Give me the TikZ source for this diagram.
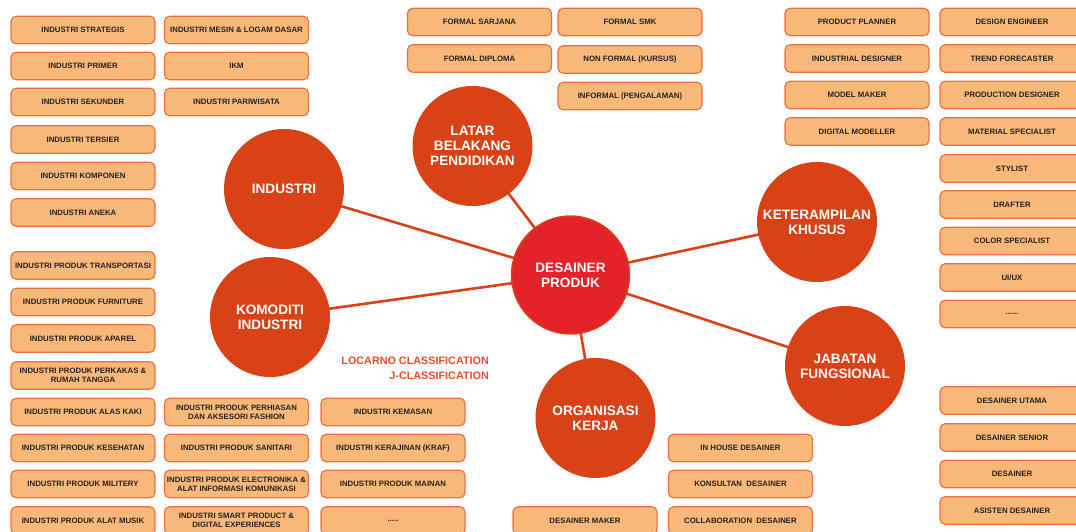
\documentclass[tikz,border=0pt]{standalone}
\usepackage{fontspec}
\setmainfont{Liberation Sans}
\usetikzlibrary{backgrounds}
\definecolor{boxfill}{RGB}{247,184,122}
\definecolor{boxline}{RGB}{234,110,62}
\definecolor{boxtext}{RGB}{40,34,30}
\definecolor{hubfill}{RGB}{216,66,22}
\definecolor{corefill}{RGB}{228,34,42}
\definecolor{notecol}{RGB}{226,78,40}
\tikzset{
  box/.style={draw=boxline, fill=boxfill, line width=1.1pt, rounded corners=5pt,
    minimum width=144pt, minimum height=27.5pt, inner sep=0pt, align=center,
    text=boxtext, font=\fontsize{7.8}{8.9}\selectfont\bfseries},
  hub/.style={circle, fill=hubfill, minimum size=120pt, inner sep=0pt, align=center,
    text=white, font=\fontsize{13.6}{15}\selectfont\bfseries},
  core/.style={hub, fill=corefill, draw=hubfill, line width=1.4pt, minimum size=118pt},
  link/.style={draw=hubfill, line width=2.6pt},
  note/.style={text=notecol, align=right, anchor=east, inner sep=0pt,
    font=\fontsize{10.8}{15}\selectfont\bfseries}
}
\begin{document}
\begin{tikzpicture}[x=1pt,y=-1pt]
\useasboundingbox (0,0) rectangle (1076,532);

% hubs
\node[core] (dp) at (570.5,275) {DESAINER\\PRODUK};
\node[hub] (ind) at (284,189) {INDUSTRI};
\node[hub] (lat) at (472.5,146) {LATAR\\BELAKANG\\PENDIDIKAN};
\node[hub] (kom) at (270,317) {KOMODITI\\INDUSTRI};
\node[hub] (ket) at (817,222) {KETERAMPILAN\\KHUSUS};
\node[hub] (jab) at (845,366) {JABATAN\\FUNGSIONAL};
\node[hub] (org) at (595.5,418) {ORGANISASI\\KERJA};

% spokes, behind the hubs
\begin{scope}[on background layer]
\foreach \h in {ind,lat,kom,ket,jab,org}{
  \draw[link] (dp.center) -- (\h.center);
}
\end{scope}

% industri
\node[box] (i1) at (83,30) {INDUSTRI STRATEGIS};
\node[box] (i2) at (83,66) {INDUSTRI PRIMER};
\node[box] (i3) at (83,102) {INDUSTRI SEKUNDER};
\node[box] (i4) at (83,139.5) {INDUSTRI TERSIER};
\node[box] (i5) at (83,176) {INDUSTRI KOMPONEN};
\node[box] (i6) at (83,212.5) {INDUSTRI ANEKA};
\node[box] (i7) at (236.5,30) {INDUSTRI MESIN \& LOGAM DASAR};
\node[box] (i8) at (236.5,66) {IKM};
\node[box] (i9) at (236.5,102) {INDUSTRI PARIWISATA};

% komoditi industri
\node[box] (k1) at (83,265.5) {INDUSTRI PRODUK TRANSPORTASI};
\node[box] (k2) at (83,302) {INDUSTRI PRODUK FURNITURE};
\node[box] (k3) at (83,338.5) {INDUSTRI PRODUK APAREL};
\node[box] (k4) at (83,375.5) {INDUSTRI PRODUK PERKAKAS \&\\RUMAH TANGGA};
\node[box] (k5) at (83,412) {INDUSTRI PRODUK ALAS KAKI};
\node[box] (k6) at (83,448) {INDUSTRI PRODUK KESEHATAN};
\node[box] (k7) at (83,484) {INDUSTRI PRODUK MILITERY};
\node[box] (k8) at (83,520.5) {INDUSTRI PRODUK ALAT MUSIK};
\node[box] (k9) at (236.5,412) {INDUSTRI PRODUK PERHIASAN\\DAN AKSESORI FASHION};
\node[box] (k10) at (236.5,448) {INDUSTRI PRODUK SANITARI};
\node[box] (k11) at (236.5,484) {INDUSTRI PRODUK ELECTRONIKA \&\\ALAT INFORMASI KOMUNIKASI};
\node[box] (k12) at (236.5,520.5) {INDUSTRI SMART PRODUCT \&\\DIGITAL EXPERIENCES};
\node[box] (k13) at (393,412) {INDUSTRI KEMASAN};
\node[box] (k14) at (393,448) {INDUSTRI KERAJINAN (KRAF)};
\node[box] (k15) at (393,484) {INDUSTRI PRODUK MAINAN};
\node[box] (k16) at (393,520.5) {.....};

\node[note] (loc) at (489,361) {LOCARNO CLASSIFICATION};
\node[note] (jcl) at (489,376) {J-CLASSIFICATION};

% latar belakang pendidikan
\node[box] (p1) at (479.5,22) {FORMAL SARJANA};
\node[box] (p2) at (479.5,58.5) {FORMAL DIPLOMA};
\node[box] (p3) at (630,22) {FORMAL SMK};
\node[box] (p4) at (630,59.5) {NON FORMAL (KURSUS)};
\node[box] (p5) at (630,96) {INFORMAL (PENGALAMAN)};

% keterampilan khusus
\node[box] (s1) at (857,22) {PRODUCT PLANNER};
\node[box] (s2) at (857,58.5) {INDUSTRIAL DESIGNER};
\node[box] (s3) at (857,95) {MODEL MAKER};
\node[box] (s4) at (857,131.5) {DIGITAL MODELLER};
\node[box] (s5) at (1012,22) {DESIGN ENGINEER};
\node[box] (s6) at (1012,58.5) {TREND FORECASTER};
\node[box] (s7) at (1012,95) {PRODUCTION DESIGNER};
\node[box] (s8) at (1012,131.5) {MATERIAL SPECIALIST};
\node[box] (s9) at (1012,168.5) {STYLIST};
\node[box] (s10) at (1012,204.5) {DRAFTER};
\node[box] (s11) at (1012,241) {COLOR SPECIALIST};
\node[box] (s12) at (1012,277.5) {UI/UX};
\node[box] (s13) at (1012,314) {......};

% jabatan fungsional
\node[box] (j1) at (1012,400.5) {DESAINER UTAMA};
\node[box] (j2) at (1012,437.5) {DESAINER SENIOR};
\node[box] (j3) at (1012,474) {DESAINER};
\node[box] (j4) at (1012,510.5) {ASISTEN DESAINER};

% organisasi kerja
\node[box] (o1) at (740.5,448) {IN HOUSE DESAINER};
\node[box] (o2) at (740.5,484) {KONSULTAN\ \ DESAINER};
\node[box] (o3) at (740.5,520.5) {COLLABORATION\ \ DESAINER};
\node[box] (o4) at (585,520.5) {DESAINER MAKER};
\end{tikzpicture}
\end{document}
